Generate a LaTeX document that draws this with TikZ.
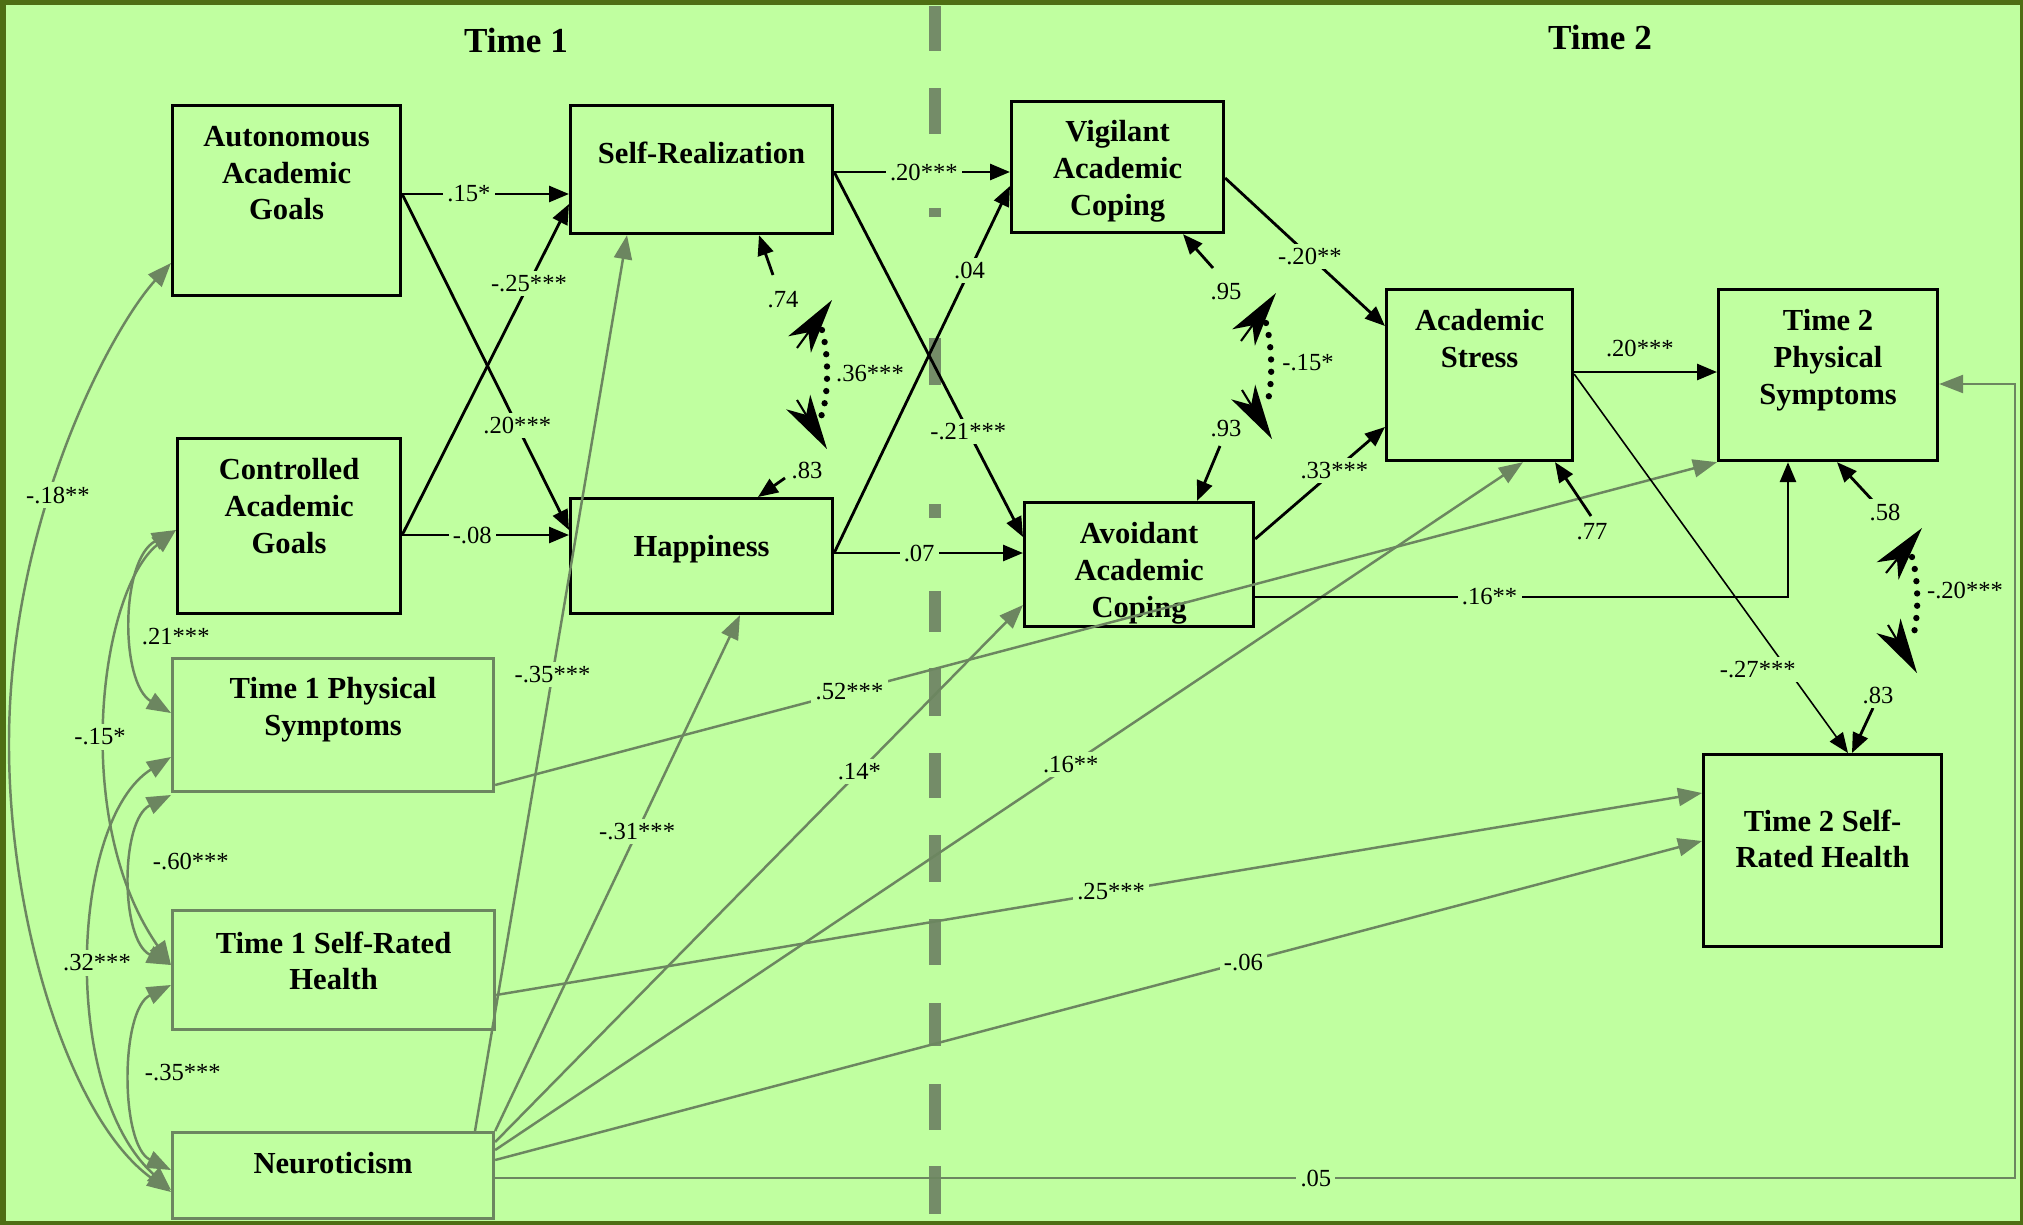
\documentclass[tikz,border=0pt]{standalone}
\usepackage{fontspec}
\setmainfont{Liberation Serif}
\usetikzlibrary{arrows.meta,positioning}
\definecolor{bg}{RGB}{192,255,160}
\definecolor{lineg}{RGB}{108,134,96}
\definecolor{dashg}{RGB}{116,140,104}
\definecolor{frame}{RGB}{78,110,20}

\begin{document}
\begin{tikzpicture}[x=0.1mm,y=-0.1mm]
    \tikzstyle{every node}+=[inner sep=0pt]
    \tikzstyle{box}=[draw=black, line width=0.9pt, anchor=north west]
    \tikzstyle{gbox}=[draw=lineg, line width=0.9pt, anchor=north west]
    \tikzstyle{btext}=[font=\fontsize{8.7}{10.4}\selectfont\bfseries, align=center]
    \tikzstyle{head}=[font=\fontsize{10}{12}\selectfont\bfseries]
    \tikzstyle{lbl}=[font=\fontsize{7}{8}\selectfont, fill=bg, inner sep=1.2pt]
    \tikzstyle{blk}=[line width=0.8pt, -{Triangle[length=2mm,width=1.6mm]}]
    \tikzstyle{grn}=[draw=lineg, line width=0.7pt, -{Triangle[length=2.4mm,width=1.8mm]}]
    \tikzstyle{cov}=[draw=lineg, line width=0.7pt, {Triangle[length=2.4mm,width=1.8mm]}-{Triangle[length=2.4mm,width=1.8mm]}]
    \tikzstyle{dots}=[line width=1.8pt, line cap=round, dash pattern=on 0pt off 3.5pt]
    \tikzstyle{tipc}=[line width=0.6pt, -{Stealth[length=5.5mm,width=2.8mm,inset=1.5mm]}]
    \useasboundingbox (0,0) rectangle (2023,1225);
    \fill[frame] (0,0) rectangle (2023,1225);
    \fill[bg] (6,5) rectangle (2020,1221);
    % time divider
    \foreach \a/\b in {6/51,88/134,208/217,338/385,504/518,591/632,668/716,753/798,835/882,919/965,1003/1046,1084/1130,1166/1214}
        \draw[dashg, line width=1.2mm] (935,\a) -- (935,\b);
    \node[head] (time1) at (516,40) {Time 1};
    \node[head] (time2) at (1600,37) {Time 2};
    % boxes
    \node[box, minimum width=22.8mm, minimum height=19mm] (auto) at (171,104) {};
    \node[btext, below=2.2mm of auto.north] (autotx) {Autonomous\\Academic\\Goals};
    \node[box, minimum width=22.3mm, minimum height=17.5mm] (ctrl) at (176,437) {};
    \node[btext, below=2.1mm of ctrl.north] (ctrltx) {Controlled\\Academic\\Goals};
    \node[box, minimum width=26.2mm, minimum height=12.8mm] (selfr) at (569,104) {};
    \node[btext, below=3.7mm of selfr.north] (selfrtx) {Self-Realization};
    \node[box, minimum width=26.2mm, minimum height=11.5mm] (happy) at (569,497) {};
    \node[btext, below=3.8mm of happy.north] (happytx) {Happiness};
    \node[box, minimum width=21.2mm, minimum height=13.1mm] (vig) at (1010,100) {};
    \node[btext, below=2mm of vig.north] (vigtx) {Vigilant\\Academic\\Coping};
    \node[box, minimum width=22.9mm, minimum height=12.4mm] (avoid) at (1023,501) {};
    \node[btext, below=2.1mm of avoid.north] (avoidtx) {Avoidant\\Academic\\Coping};
    \node[box, minimum width=18.6mm, minimum height=17.1mm] (stress) at (1385,288) {};
    \node[btext, below=2.1mm of stress.north] (stresstx) {Academic\\Stress};
    \node[box, minimum width=21.9mm, minimum height=17.1mm] (tphys) at (1717,288) {};
    \node[btext, below=2.1mm of tphys.north] (tphystx) {Time 2\\Physical\\Symptoms};
    \node[box, minimum width=23.8mm, minimum height=19.2mm] (tsrh) at (1702,753) {};
    \node[btext, below=5.6mm of tsrh.north] (tsrhtx) {Time 2 Self-\\Rated Health};
    \node[gbox, minimum width=32.1mm, minimum height=13.3mm] (ophys) at (171,657) {};
    \node[btext, below=2mm of ophys.north] (ophystx) {Time 1 Physical\\Symptoms};
    \node[gbox, minimum width=32.2mm, minimum height=11.9mm] (osrh) at (171,909) {};
    \node[btext, below=2.2mm of osrh.north] (osrhtx) {Time 1 Self-Rated\\Health};
    \node[gbox, minimum width=32.1mm, minimum height=8.6mm] (neuro) at (171,1131) {};
    \node[btext, below=2.1mm of neuro.north] (neurotx) {Neuroticism};
    % covariances among time 1 variables
    \draw[cov] (auto.west |- 0,263) .. controls (110,330) and (10,520) .. (9,740) .. controls (8,920) and (70,1120) .. (neuro.west |- 0,1192);
    \node[lbl] (c18) at (58,495) {-.18**};
    \draw[cov] (ctrl.west |- 0,530) .. controls (120,560) and (120,683) .. (ophys.west |- 0,713);
    \node[lbl, anchor=west] (c21) at (137,637) {.21***};
    \draw[cov] (ctrl.west |- 0,530) .. controls (100,590) and (70,820) .. (osrh.west |- 0,965);
    \node[lbl] (c15) at (100,737) {-.15*};
    \draw[cov] (ophys.west |- 0,795) .. controls (120,820) and (120,940) .. (osrh.west |- 0,965);
    \node[lbl, anchor=west] (c60) at (148,861) {-.60***};
    \draw[cov] (ophys.west |- 0,757) .. controls (70,820) and (60,1090) .. (neuro.west |- 0,1190);
    \node[lbl] (c32) at (97,963) {.32***};
    \draw[cov] (osrh.west |- 0,985) .. controls (120,1010) and (120,1145) .. (neuro.west |- 0,1170);
    \node[lbl, anchor=west] (c35) at (140,1073) {-.35***};
    % time 1 predictors
    \draw[grn] (neuro.north -| 475,0) -- node[lbl, pos=.51] (l35) {-.35***} (selfr.south -| 627,0);
    \draw[grn] (neuro.north east) -- node[lbl, pos=.58] (l31) {-.31***} (happy.south -| 740,0);
    \draw[grn] (neuro.east |- 0,1142) -- node[lbl, pos=.69] (l14) {.14*} (avoid.west |- 0,605);
    \draw[grn] (neuro.east |- 0,1150) -- node[lbl, pos=.56] (l16a) {.16**} (stress.south -| 1523,0);
    \draw[grn] (neuro.east |- 0,1160) -- node[lbl, pos=.62] (l06) {-.06} (tsrh.west |- 0,841);
    \draw[grn] (neuro.east |- 0,1178) -| node[lbl, pos=.27] (l05) {.05} (2015,384) -- (tphys.east |- 0,384);
    \draw[grn] (ophys.east |- 0,785) -- node[lbl, pos=.29] (l52) {.52***} (tphys.south west);
    \draw[grn] (osrh.east |- 0,995) -- node[lbl, pos=.51] (l25) {.25***} (tsrh.west |- 0,793);
    % structural paths
    \draw[blk] (auto.east |- 0,194) -- node[lbl, pos=.4] (l15) {.15*} (selfr.west |- 0,194);
    \draw[blk] (auto.east |- 0,194) -- node[lbl, pos=.69] (l20a) {.20***} (happy.west |- 0,530);
    \draw[blk] (ctrl.east |- 0,535) -- node[lbl, pos=.76] (l25n) {-.25***} (selfr.west |- 0,204);
    \draw[blk] (ctrl.east |- 0,535) -- node[lbl, pos=.42] (l08) {-.08} (happy.west |- 0,535);
    \draw[blk] (selfr.east |- 0,172) -- node[lbl, pos=.51] (l20b) {.20***} (vig.west |- 0,172);
    \draw[blk] (selfr.east |- 0,172) -- node[lbl, pos=.71] (l21) {-.21***} (avoid.west |- 0,537);
    \draw[blk] (happy.east |- 0,553) -- node[lbl, pos=.77] (l04) {.04} (vig.west |- 0,186);
    \draw[blk] (happy.east |- 0,553) -- node[lbl, pos=.45] (l07) {.07} (avoid.west |- 0,553);
    \draw[blk] (vig.east |- 0,178) -- node[lbl, pos=.53] (l20n) {-.20**} (stress.west |- 0,326);
    \draw[blk] (avoid.east |- 0,539) -- node[lbl, pos=.61] (l33) {.33***} (stress.west |- 0,427);
    \draw[blk] (stress.east |- 0,372) -- node[lbl, pos=.46, above=1mm] (l20c) {.20***} (tphys.west |- 0,372);
    \draw[blk] (avoid.east |- 0,597) -| node[lbl, pos=.22] (l16b) {.16**} (tphys.south -| 1788,0);
    \draw[line width=0.45pt, -{Triangle[length=2mm,width=1.6mm]}] (stress.east |- 0,374) -- node[lbl, pos=.78, xshift=-3mm] (l27) {-.27***} (tsrh.north -| 1848,0);
    % residuals
    \coordinate (e1) at (773,275);
    \coordinate (e2) at (785,478);
    \coordinate (e3) at (1213,268);
    \coordinate (e4) at (1220,446);
    \coordinate (e5) at (1591,516);
    \coordinate (e6) at (1874,502);
    \coordinate (e7) at (1873,708);
    \draw[blk] (e1) -- (selfr.south -| 759,0);
    \draw[blk] (e2) -- (happy.north -| 758,0);
    \draw[blk] (e3) -- (vig.south -| 1183,0);
    \draw[blk] (e4) -- (avoid.north -| 1197,0);
    \draw[blk] (e5) -- (stress.south -| 1555,0);
    \draw[blk] (e6) -- (tphys.south -| 1837,0);
    \draw[blk] (e7) -- (tsrh.north -| 1852,0);
    \node[lbl] (r1) at (783,300) {.74};
    \node[lbl] (r2) at (807,470) {.83};
    \node[lbl] (r3) at (1226,292) {.95};
    \node[lbl] (r4) at (1226,429) {.93};
    \node[lbl] (r5) at (1592,532) {.77};
    \node[lbl] (r6) at (1885,512) {.58};
    \node[lbl] (r7) at (1878,695) {.83};
    % residual correlations
    \coordinate (c1t) at (832,300);
    \coordinate (c1u) at (797,348);
    \coordinate (c1d) at (797,400);
    \coordinate (c1b) at (827,449);
    \coordinate (c2t) at (1276,293);
    \coordinate (c2u) at (1241,341);
    \coordinate (c2d) at (1242,390);
    \coordinate (c2b) at (1272,439);
    \coordinate (c3t) at (1922,528);
    \coordinate (c3u) at (1886,573);
    \coordinate (c3d) at (1888,625);
    \coordinate (c3b) at (1917,673);
    \draw[dots] (822,330) .. controls (829,355) and (829,395) .. (821,417);
    \draw[dots] (1266,323) .. controls (1273,348) and (1273,388) .. (1266,407);
    \draw[dots] (1912,557) .. controls (1919,580) and (1919,620) .. (1912,640);
    \draw[tipc] (c1u) -- (c1t);
    \draw[tipc] (c1d) -- (c1b);
    \draw[tipc] (c2u) -- (c2t);
    \draw[tipc] (c2d) -- (c2b);
    \draw[tipc] (c3u) -- (c3t);
    \draw[tipc] (c3d) -- (c3b);
    \node[lbl] (k1) at (870,374) {.36***};
    \node[lbl] (k2) at (1308,363) {-.15*};
    \node[lbl] (k3) at (1965,590) {-.20***};
\end{tikzpicture}
\end{document}
